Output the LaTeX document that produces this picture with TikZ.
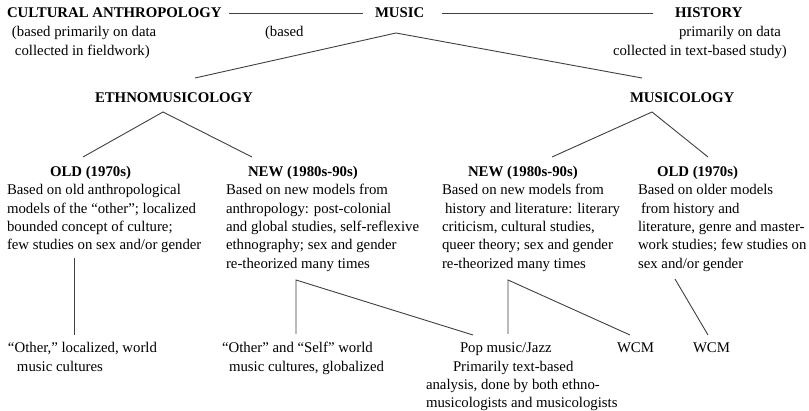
\documentclass[tikz,border=0pt]{standalone}
\usepackage{fontspec}
\setmainfont{Liberation Serif}
\begin{document}
\begin{tikzpicture}[x=1pt,y=-1pt,
  every node/.style={inner sep=0pt, outer sep=0pt, font=\fontsize{14.8}{18.3}\selectfont},
  head/.style={anchor=base west, font=\fontsize{14.8}{18.3}\selectfont\bfseries},
  body/.style={anchor=base west, align=left},
  conn/.style={draw=black!75, line width=0.9pt}]
\useasboundingbox[fill=white] (0,0) rectangle (809,411);

% top row
\node[head] (cult) at (7,18) {CULTURAL ANTHROPOLOGY};
\node[head] (music) at (375,18) {MUSIC};
\node[head] (hist) at (675,18) {HISTORY};
\node[body] (cultsub) at (12,55.3) {(based primarily on data\\\hspace*{3pt}collected in fieldwork)};
\node[body] (based) at (265,37) {(based};
\node[body] (histsub) at (613,55.3) {\hspace*{66pt}primarily on data\\collected in text-based study)};

% second level
\node[head] (ethno) at (95,103) {ETHNOMUSICOLOGY};
\node[head] (musicol) at (630,103) {MUSICOLOGY};

% third level
\node[head] (oldE) at (50,177) {OLD (1970s)};
\node[head] (newE) at (248,177) {NEW (1980s-90s)};
\node[head] (newM) at (468,177) {NEW (1980s-90s)};
\node[head] (oldM) at (657,177) {OLD (1970s)};

\node[body] (oldEb) at (7,249.9) {Based on old anthropological\\models of the “other”; localized\\bounded concept of culture;\\few studies on sex and/or gender};
\node[body] (newEb) at (226,268.2) {Based on new models from\\anthropology: post-colonial\\and global studies, self-reflexive\\ethnography; sex and gender\\re-theorized many times};
\node[body] (newMb) at (442,268.2) {Based on new models from\\\hspace*{3pt}history and literature: literary\\criticism, cultural studies,\\queer theory; sex and gender\\re-theorized many times};
\node[body] (oldMb) at (638,268.2) {Based on older models\\\hspace*{3pt}from history and\\literature, genre and master-\\work studies; few studies on\\sex and/or gender};

% bottom level
\node[body] (otherL) at (8,371.3) {“Other,” localized, world\\\hspace*{9pt}music cultures};
\node[body] (otherS) at (222,371.3) {“Other” and “Self” world\\\hspace*{7pt}music cultures, globalized};
\node[body] (pop) at (426,407.9) {\hspace*{34pt}Pop music/Jazz\\\hspace*{27pt}Primarily text-based\\analysis, done by both ethno-\\musicologists and musicologists};
\node[body] (wcm1) at (617,353) {WCM};
\node[body] (wcm2) at (693,353) {WCM};

% connector points
\coordinate (mtop) at (396,33);
\coordinate (eEnd) at (195,78);
\coordinate (mEnd) at (642,78);
\coordinate (eTop) at (163,112);
\coordinate (eL) at (83,157);
\coordinate (eR) at (252,157);
\coordinate (mTop2) at (652,112);
\coordinate (mL) at (552,157);
\coordinate (mR) at (708,157);
\coordinate (oTop) at (74,258);
\coordinate (oBot) at (74,335);
\coordinate (nTop) at (296,280);
\coordinate (nBot) at (296,334);
\coordinate (popL) at (473,335);
\coordinate (nmTop) at (508,280);
\coordinate (nmBot) at (508,334);
\coordinate (wA) at (630,335);
\coordinate (omTop) at (675,279);
\coordinate (wB) at (708,335);

\draw[conn] (cult.east |- 0,13) ++(8,0) -- ([xshift=-12pt]music.west |- 0,13);
\draw[conn] ([xshift=18pt]music.east |- 0,13) -- ([xshift=-22pt]hist.west |- 0,13);
\draw[conn] (eEnd) -- (mtop) -- (mEnd);
\draw[conn] (eL) -- (eTop) -- (eR);
\draw[conn] (mL) -- (mTop2) -- (mR);
\draw[conn] (oTop) -- (oBot);
\draw[conn] (nBot) -- (nTop) -- (popL);
\draw[conn] (nmBot) -- (nmTop) -- (wA);
\draw[conn] (omTop) -- (wB);
\end{tikzpicture}
\end{document}
